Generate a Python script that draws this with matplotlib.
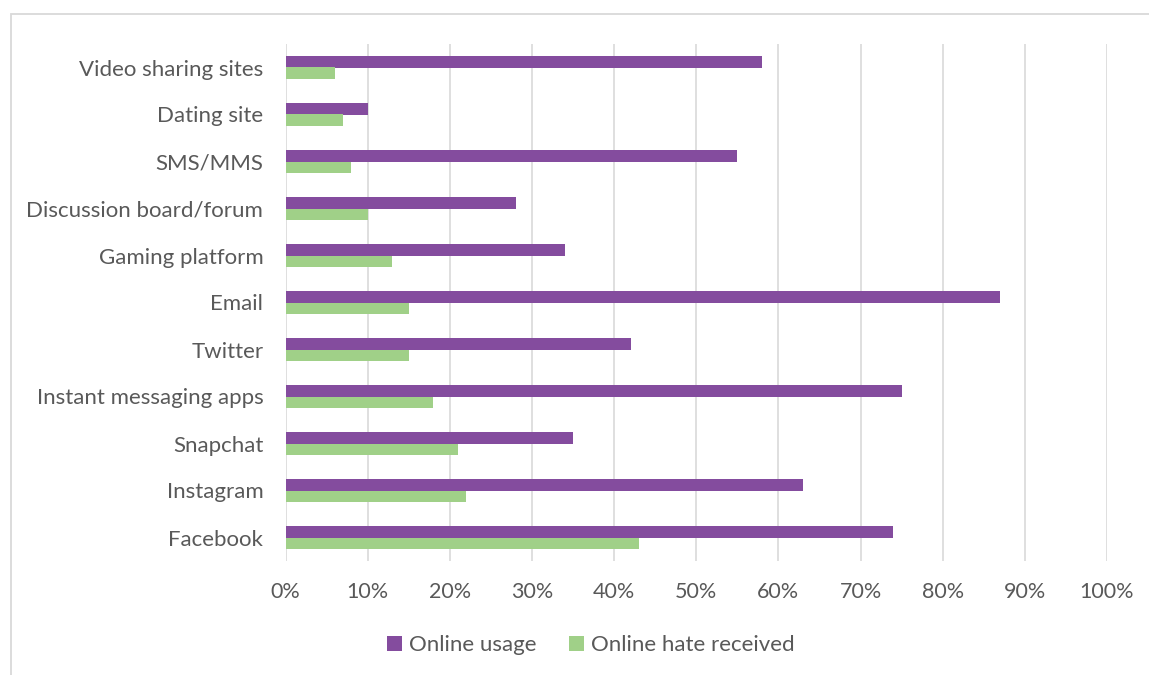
import matplotlib
matplotlib.use("Agg")
import matplotlib.pyplot as plt
from matplotlib.patches import Rectangle, Patch
import numpy as np

categories = ["Facebook", "Instagram", "Snapchat", "Instant messaging apps", "Twitter",
              "Email", "Gaming platform", "Discussion board/forum", "SMS/MMS",
              "Dating site", "Video sharing sites"]
online_usage = [74, 63, 35, 75, 42, 87, 34, 28, 55, 10, 58]
online_hate = [43, 22, 21, 18, 15, 15, 13, 10, 8, 7, 6]
x_ticks = [0, 10, 20, 30, 40, 50, 60, 70, 80, 90, 100]
x_tick_labels = [f"{t}%" for t in x_ticks]
series_names = ["Online usage", "Online hate received"]

purple = "#844C9E"
green = "#A0D088"
text_color = "#595959"
grid_color = "#D9D9D9"

plt.rcParams['font.family'] = ['Lato', 'DejaVu Sans']

fig = plt.figure(figsize=(11.49, 6.75), dpi=100)
ax = fig.add_axes([285.5/1149, 1-561/675, (1107-285.5)/1149, (561-44)/675])

y = np.arange(len(categories))
h = 0.255
ax.barh(y + h/2, online_usage, height=h, color=purple, zorder=3)
ax.barh(y - h/2, online_hate, height=h, color=green, zorder=3)

ax.set_xlim(0, 100)
ax.set_ylim(-0.5, len(categories) - 0.5)
ax.set_xticks(x_ticks)
ax.set_xticklabels(x_tick_labels)
ax.set_yticks(y)
ax.set_yticklabels(categories)
ax.tick_params(axis='y', length=0, labelsize=16, colors=text_color, pad=16)
ax.tick_params(axis='x', length=0, labelsize=15.5, colors=text_color, pad=15)
ax.xaxis.grid(True, color=grid_color, linewidth=1.2, zorder=0)
for s in ax.spines.values():
    s.set_visible(False)

# figure border
fig.patches.append(Rectangle((11/1149, -0.1), 1.2, 1.1 - 14/675, transform=fig.transFigure,
                             fill=False, edgecolor=grid_color, linewidth=1.3))

handles = [Patch(facecolor=purple), Patch(facecolor=green)]
fig.legend(handles, series_names, loc='center', bbox_to_anchor=(0.514, 0.044), ncol=2,
           frameon=False, fontsize=16, labelcolor=text_color, handlelength=0.7,
           handleheight=0.7, handletextpad=0.3, columnspacing=1.45)

fig.savefig("out.png", dpi=100)
